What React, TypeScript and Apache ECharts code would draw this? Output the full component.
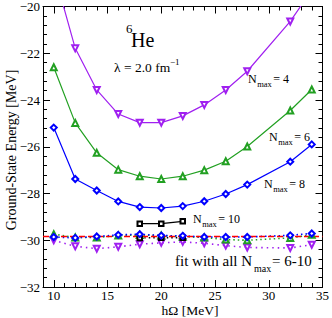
import React, { useEffect, useRef } from "react";
import * as echarts from "echarts";

const hw = [10, 12, 14, 16, 18, 20, 22, 24, 26, 28, 32, 34];
const e4 = [-18.5, -21.79, -23.57, -24.6, -24.97, -24.97, -24.68, -24.21, -23.57, -22.77, -20.64, -19.3];
const e6 = [-22.6, -24.98, -26.26, -26.98, -27.26, -27.38, -27.26, -27.0, -26.62, -25.99, -24.45, -23.55];
const e8 = [-25.18, -27.38, -27.87, -28.34, -28.58, -28.62, -28.54, -28.33, -28.02, -27.62, -26.64, -25.9];
const hw10 = [18, 20, 22];
const e10 = [-29.29, -29.29, -29.19];
const fit4 = [-30.0, -30.26, -30.36, -30.28, -30.17, -30.11, -30.07, -30.13, -30.23, -30.31, -30.33, -30.19];
const fit6 = [-29.74, -29.88, -29.88, -29.8, -29.78, -29.8, -29.85, -29.88, -29.97, -30.0, -29.9, -29.77];
const fit8 = [-29.86, -29.9, -29.84, -29.77, -29.74, -29.8, -29.81, -29.86, -29.86, -29.86, -29.79, -29.71];
const fit10 = [-29.9, -29.89, -29.89];
const hwFitAll = [9, 35];
const eFitAll = [-29.84, -29.84];

const xMajor = [10, 15, 20, 25, 30, 35];
const xMinor = [9, 11, 12, 13, 14, 16, 17, 18, 19, 21, 22, 23, 24, 26, 27, 28, 29, 31, 32, 33, 34];

const FONT = "Liberation Serif";
const PURPLE = "#a020f0";
const GREEN = "#22a022";
const BLUE = "#0000ff";

const pairs = (xs: number[], ys: number[]) => xs.map((x, i) => [x, ys[i]]);

function txt(text: string, x: number, y: number, size: number, extra: any = {}) {
  return {
    type: "text",
    x,
    y,
    rotation: extra.rotation || 0,
    style: {
      text,
      fontFamily: FONT,
      fontSize: size,
      fill: "#000",
      align: extra.align || "left",
      verticalAlign: "middle",
    },
  };
}

function nmax(x: number, y: number, val: string, size = 12, sub = 8.5) {
  const nW = size * 0.722;
  const subW = sub * 1.667;
  return [
    txt("N", x, y, size),
    txt("max", x + nW + 0.5, y + size * 0.42, sub),
    txt("= " + val, x + nW + subW + 2.5, y, size),
  ];
}

export default function App() {
  const ref = useRef<HTMLDivElement>(null);
  useEffect(() => {
    if (!ref.current) return;
    const chart = echarts.init(ref.current, null, { renderer: "svg" });
    const axisLine = { show: true, lineStyle: { color: "#000", width: 1 } };
    const tickStyle = { color: "#000", width: 1 };
    const baseX = { type: "value", min: 9, max: 35, splitLine: { show: false } };
    const option: any = {
      animation: false,
      backgroundColor: "#fff",
      grid: { left: 43, right: 9, top: 5, bottom: 31, containLabel: false },
      xAxis: [
        {
          ...baseX,
          position: "bottom",
          axisLine,
          axisTick: { show: true, inside: true, length: 4, lineStyle: tickStyle, customValues: xMinor },
          axisLabel: { show: false },
        },
        {
          ...baseX,
          position: "bottom",
          axisLine: { show: false },
          axisTick: { show: true, inside: true, length: 7, lineStyle: tickStyle, customValues: xMajor },
          axisLabel: {
            show: true,
            customValues: xMajor,
            fontFamily: FONT,
            fontSize: 13,
            color: "#000",
            margin: 2,
          },
        },
        {
          ...baseX,
          position: "top",
          axisLine,
          axisTick: { show: true, inside: true, length: 4, lineStyle: tickStyle, customValues: xMinor },
          axisLabel: { show: false },
        },
        {
          ...baseX,
          position: "top",
          axisLine: { show: false },
          axisTick: { show: true, inside: true, length: 7, lineStyle: tickStyle, customValues: xMajor },
          axisLabel: { show: false },
        },
      ],
      yAxis: [
        {
          type: "value",
          min: -32,
          max: -20,
          interval: 2,
          position: "left",
          axisLine,
          axisTick: { show: true, inside: true, length: 7, lineStyle: tickStyle },
          minorTick: { show: true, splitNumber: 5, length: 4, lineStyle: tickStyle },
          splitLine: { show: false },
          axisLabel: {
            fontFamily: FONT,
            fontSize: 13,
            color: "#000",
            margin: 3,
            formatter: (v: number) => (v < 0 ? "\u2212" + Math.abs(v) : String(v)),
          },
        },
        {
          type: "value",
          min: -32,
          max: -20,
          interval: 2,
          position: "right",
          axisLine,
          axisTick: { show: true, inside: true, length: 7, lineStyle: tickStyle },
          minorTick: { show: true, splitNumber: 5, length: 4, lineStyle: tickStyle },
          splitLine: { show: false },
          axisLabel: { show: false },
        },
      ],
      series: [
        {
          type: "line",
          data: pairs(hw, fit4),
          symbol: "emptyTriangle",
          symbolRotate: 180,
          symbolSize: 6,
          itemStyle: { color: PURPLE, borderWidth: 1 },
          lineStyle: { color: PURPLE, width: 1.6, type: [1.5, 4] },
        },
        {
          type: "line",
          data: pairs(hw, fit6),
          symbol: "emptyTriangle",
          symbolSize: 6,
          itemStyle: { color: GREEN, borderWidth: 1 },
          lineStyle: { color: GREEN, width: 1.6, type: [1.5, 3] },
        },
        {
          type: "line",
          data: pairs(hw10, fit10),
          symbol: "emptyRect",
          symbolSize: 4.5,
          itemStyle: { color: "#000", borderWidth: 1 },
          lineStyle: { color: "#000", width: 1.4, type: [1.5, 3] },
        },
        {
          type: "line",
          data: pairs(hw, fit8),
          symbol: "emptyDiamond",
          symbolSize: 6,
          itemStyle: { color: BLUE, borderWidth: 1.2 },
          lineStyle: { color: BLUE, width: 1.6, type: [1.5, 3] },
        },
        {
          type: "line",
          data: pairs(hwFitAll, eFitAll),
          symbol: "none",
          lineStyle: { color: "#ff0000", width: 1.5, type: [6, 3] },
        },
        {
          type: "line",
          data: pairs(hw, e4),
          symbol: "emptyTriangle",
          symbolRotate: 180,
          symbolSize: 6,
          itemStyle: { color: PURPLE, borderWidth: 1 },
          lineStyle: { color: PURPLE, width: 1.2 },
        },
        {
          type: "line",
          data: pairs(hw, e6),
          symbol: "emptyTriangle",
          symbolSize: 6,
          itemStyle: { color: GREEN, borderWidth: 1 },
          lineStyle: { color: GREEN, width: 1.2 },
        },
        {
          type: "line",
          data: pairs(hw, e8),
          symbol: "emptyDiamond",
          symbolSize: 6,
          itemStyle: { color: BLUE, borderWidth: 1 },
          lineStyle: { color: BLUE, width: 1.2 },
        },
        {
          type: "line",
          data: pairs(hw10, e10),
          symbol: "emptyRect",
          symbolSize: 4.5,
          itemStyle: { color: "#000", borderWidth: 1 },
          lineStyle: { color: "#000", width: 1.2 },
        },
      ],
      graphic: [
        txt("6", 126, 28.5, 13),
        txt("He", 131, 40, 20),
        txt("\u03bb = 2.0 fm", 114, 67.5, 13.5),
        txt("\u22121", 170, 62, 9),
        ...nmax(248, 79, "4"),
        ...nmax(269, 137, "6"),
        ...nmax(264, 184, "8"),
        ...nmax(193, 219, "10"),
        txt("fit with all N", 175, 261, 15),
        txt("max", 254, 268.5, 10),
        txt("= 6-10", 272, 261, 15),
        txt("Ground-State Energy [MeV]", 11, 150, 14, { rotation: Math.PI / 2, align: "center" }),
        txt("h\u03a9 [MeV]", 190, 310, 13.5, { align: "center" }),
      ],
    };
    chart.setOption(option);
    return () => chart.dispose();
  }, []);
  return (
    <div
      ref={ref}
      style={{ position: "fixed", left: 0, top: 0, width: 332, height: 318 }}
    />
  );
}
